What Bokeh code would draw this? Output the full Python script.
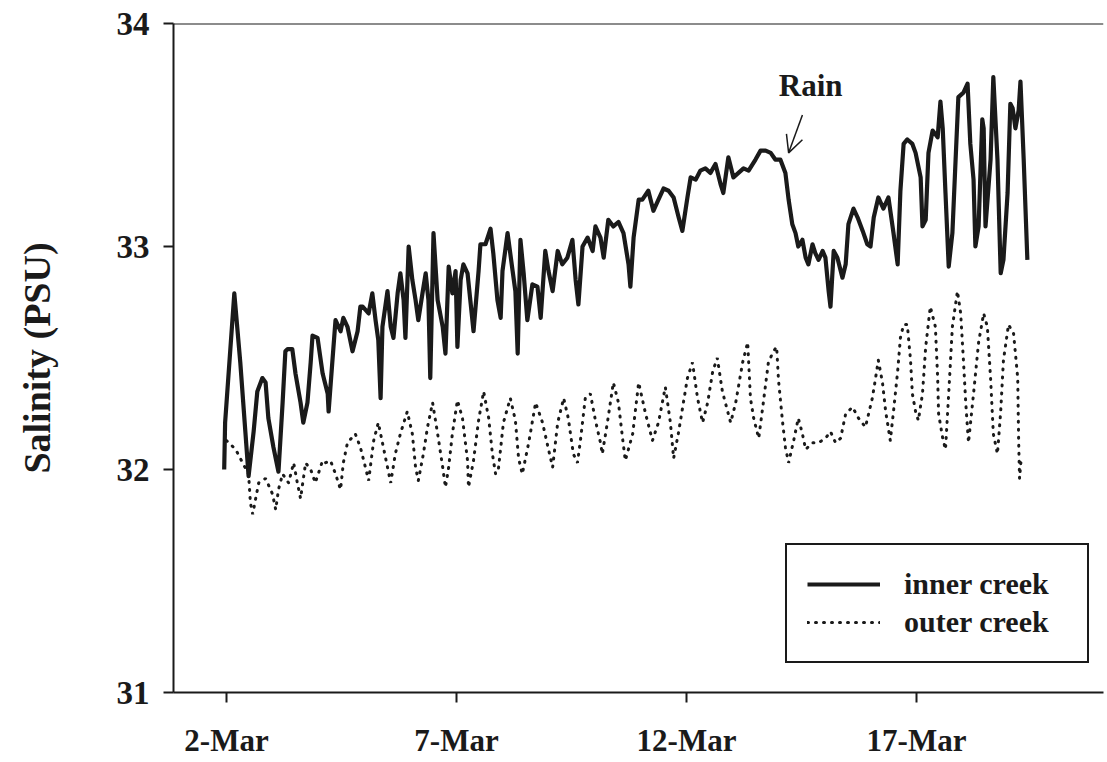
from bokeh.plotting import figure
from bokeh.models import FixedTicker, Span, Arrow, OpenHead, Label, Range1d
from bokeh.embed import file_html
from bokeh.resources import INLINE

# ---- data (day of March, salinity PSU) ----
inner_day = [
    1.95, 1.97, 2.17, 2.30, 2.41, 2.48, 2.59, 2.67, 2.78, 2.85,
    2.91, 3.02, 3.13, 3.22, 3.28, 3.33, 3.43, 3.50, 3.61, 3.67,
    3.76, 3.83, 3.87, 3.98, 4.09, 4.20, 4.22, 4.30, 4.37, 4.48,
    4.54, 4.63, 4.74, 4.85, 4.91, 4.96, 5.09, 5.17, 5.24, 5.30,
    5.35, 5.39, 5.50, 5.57, 5.63, 5.72, 5.78, 5.85, 5.89, 5.96,
    6.04, 6.11, 6.17, 6.26, 6.33, 6.39, 6.43, 6.50, 6.59, 6.70,
    6.76, 6.83, 6.91, 6.98, 7.02, 7.09, 7.15, 7.24, 7.30, 7.37,
    7.48, 7.52, 7.63, 7.74, 7.80, 7.89, 7.96, 8.00, 8.11, 8.22,
    8.28, 8.33, 8.39, 8.46, 8.54, 8.65, 8.76, 8.83, 8.93, 9.00,
    9.09, 9.20, 9.30, 9.41, 9.52, 9.59, 9.65, 9.74, 9.85, 9.96,
    10.02, 10.13, 10.20, 10.30, 10.41, 10.52, 10.63, 10.74, 10.78, 10.85,
    10.96, 11.04, 11.17, 11.28, 11.39, 11.50, 11.61, 11.72, 11.83, 11.91,
    12.02, 12.09, 12.20, 12.30, 12.41, 12.52, 12.63, 12.74, 12.80, 12.91,
    13.02, 13.13, 13.24, 13.35, 13.50, 13.61, 13.72, 13.83, 13.93, 14.04,
    14.15, 14.22, 14.30, 14.37, 14.43, 14.52, 14.59, 14.65, 14.74, 14.80,
    14.87, 14.96, 15.02, 15.09, 15.13, 15.20, 15.28, 15.39, 15.46, 15.52,
    15.63, 15.72, 15.83, 15.93, 16.00, 16.07, 16.17, 16.28, 16.39, 16.50,
    16.59, 16.65, 16.72, 16.80, 16.91, 16.98, 17.09, 17.13, 17.20, 17.26,
    17.35, 17.46, 17.52, 17.57, 17.63, 17.70, 17.78, 17.85, 17.91, 18.02,
    18.11, 18.17, 18.24, 18.28, 18.35, 18.43, 18.46, 18.50, 18.61, 18.67,
    18.76, 18.83, 18.89, 18.98, 19.04, 19.09, 19.15, 19.22, 19.26, 19.33, 19.41,
]
inner_sal = [
    32.00, 32.21, 32.79, 32.48, 32.17, 31.97, 32.17, 32.35, 32.41, 32.39,
    32.23, 32.10, 31.99, 32.30, 32.53, 32.54, 32.54, 32.43, 32.30, 32.21,
    32.30, 32.48, 32.60, 32.59, 32.43, 32.34, 32.26, 32.48, 32.67, 32.62,
    32.68, 32.64, 32.53, 32.62, 32.73, 32.73, 32.70, 32.79, 32.67, 32.58,
    32.32, 32.64, 32.80, 32.64, 32.59, 32.79, 32.88, 32.76, 32.59, 33.00,
    32.85, 32.76, 32.67, 32.79, 32.88, 32.76, 32.41, 33.06, 32.76, 32.64,
    32.52, 32.91, 32.79, 32.89, 32.55, 32.85, 32.92, 32.88, 32.76, 32.62,
    32.89, 33.01, 33.01, 33.08, 32.97, 32.76, 32.68, 32.89, 33.06, 32.89,
    32.80, 32.52, 33.03, 32.88, 32.67, 32.83, 32.82, 32.68, 32.98, 32.89,
    32.80, 32.98, 32.92, 32.95, 33.03, 32.85, 32.74, 33.00, 33.04, 32.98,
    33.09, 33.04, 32.95, 33.12, 33.09, 33.11, 33.06, 32.92, 32.82, 33.04,
    33.21, 33.21, 33.25, 33.16, 33.21, 33.26, 33.25, 33.22, 33.13, 33.07,
    33.22, 33.31, 33.30, 33.34, 33.35, 33.33, 33.37, 33.28, 33.24, 33.40,
    33.31, 33.33, 33.35, 33.34, 33.39, 33.43, 33.43, 33.42, 33.39, 33.39,
    33.33, 33.21, 33.10, 33.06, 33.00, 33.03, 32.95, 32.92, 33.01, 32.97,
    32.94, 32.98, 32.95, 32.80, 32.73, 32.98, 32.95, 32.86, 32.92, 33.10,
    33.17, 33.13, 33.07, 33.01, 33.00, 33.13, 33.22, 33.17, 33.22, 33.06,
    32.92, 33.25, 33.46, 33.48, 33.46, 33.42, 33.31, 33.09, 33.12, 33.42,
    33.52, 33.49, 33.65, 33.53, 33.24, 32.91, 33.06, 33.39, 33.67, 33.69,
    33.73, 33.46, 33.30, 33.00, 33.09, 33.57, 33.53, 33.09, 33.39, 33.76,
    33.39, 32.88, 32.94, 33.24, 33.64, 33.62, 33.53, 33.61, 33.74, 33.39, 32.94,
]

outer_day = [
    2.00, 2.20, 2.35, 2.48, 2.52, 2.57, 2.70, 2.85, 3.00, 3.07,
    3.13, 3.22, 3.35, 3.46, 3.54, 3.61, 3.72, 3.83, 3.93, 4.09,
    4.15, 4.26, 4.37, 4.48, 4.54, 4.63, 4.80, 4.91, 5.02, 5.09,
    5.20, 5.30, 5.41, 5.50, 5.57, 5.67, 5.78, 5.93, 6.04, 6.11,
    6.17, 6.28, 6.37, 6.48, 6.59, 6.70, 6.76, 6.83, 6.91, 7.02,
    7.13, 7.24, 7.26, 7.37, 7.48, 7.59, 7.70, 7.78, 7.85, 7.91,
    8.02, 8.17, 8.28, 8.35, 8.43, 8.57, 8.72, 8.87, 9.00, 9.09,
    9.20, 9.33, 9.43, 9.54, 9.63, 9.70, 9.80, 9.91, 10.02, 10.13,
    10.17, 10.28, 10.41, 10.52, 10.61, 10.67, 10.83, 10.96, 11.11, 11.26,
    11.39, 11.54, 11.65, 11.72, 11.83, 12.02, 12.13, 12.24, 12.35, 12.46,
    12.57, 12.67, 12.78, 12.96, 13.07, 13.22, 13.33, 13.39, 13.46, 13.57,
    13.67, 13.78, 13.89, 13.96, 14.00, 14.09, 14.15, 14.22, 14.33, 14.43,
    14.52, 14.59, 14.74, 14.87, 15.02, 15.13, 15.24, 15.35, 15.46, 15.61,
    15.74, 15.89, 16.04, 16.11, 16.17, 16.26, 16.33, 16.43, 16.50, 16.59,
    16.65, 16.72, 16.80, 16.87, 16.91, 16.98, 17.04, 17.13, 17.20, 17.30,
    17.41, 17.46, 17.48, 17.57, 17.63, 17.70, 17.78, 17.89, 17.96, 18.02,
    18.07, 18.13, 18.24, 18.35, 18.46, 18.54, 18.61, 18.67, 18.76, 18.83,
    18.89, 19.00, 19.11, 19.20, 19.22, 19.24, 19.28,
]
outer_sal = [
    32.13, 32.09, 32.03, 31.98, 31.85, 31.80, 31.94, 31.96, 31.89, 31.82,
    31.91, 31.98, 31.94, 32.03, 31.94, 31.87, 32.03, 32.00, 31.94, 32.04,
    32.03, 32.04, 31.98, 31.91, 32.03, 32.12, 32.16, 32.10, 32.01, 31.95,
    32.13, 32.21, 32.10, 32.01, 31.94, 32.07, 32.16, 32.26, 32.16, 32.01,
    31.95, 32.07, 32.19, 32.30, 32.16, 32.01, 31.92, 32.01, 32.16, 32.31,
    32.23, 32.04, 31.92, 32.04, 32.22, 32.35, 32.23, 32.07, 31.98, 32.00,
    32.21, 32.32, 32.22, 32.05, 31.98, 32.12, 32.30, 32.21, 32.09, 32.01,
    32.21, 32.32, 32.23, 32.07, 32.03, 32.14, 32.32, 32.34, 32.22, 32.12,
    32.07, 32.21, 32.39, 32.30, 32.14, 32.04, 32.16, 32.39, 32.25, 32.13,
    32.21, 32.37, 32.21, 32.05, 32.17, 32.41, 32.48, 32.32, 32.21, 32.30,
    32.44, 32.50, 32.35, 32.21, 32.30, 32.48, 32.57, 32.32, 32.23, 32.14,
    32.30, 32.48, 32.53, 32.55, 32.40, 32.21, 32.10, 32.03, 32.13, 32.23,
    32.16, 32.09, 32.12, 32.12, 32.14, 32.17, 32.12, 32.14, 32.25, 32.28,
    32.23, 32.19, 32.32, 32.41, 32.49, 32.39, 32.26, 32.13, 32.26, 32.44,
    32.59, 32.65, 32.65, 32.49, 32.34, 32.26, 32.22, 32.34, 32.55, 32.73,
    32.64, 32.41, 32.25, 32.14, 32.09, 32.34, 32.64, 32.80, 32.70, 32.49,
    32.30, 32.12, 32.34, 32.57, 32.70, 32.64, 32.41, 32.16, 32.07, 32.26,
    32.49, 32.65, 32.61, 32.41, 32.13, 31.96, 32.06,
]

x_ticks = [2, 7, 12, 17]
x_tick_labels = ["2-Mar", "7-Mar", "12-Mar", "17-Mar"]
y_ticks = [31, 32, 33, 34]

rain_text = "Rain"
rain_label_pos = (14.70, 33.72)
rain_arrow_from = (14.52, 33.59)
rain_arrow_to = (14.22, 33.42)

FONT = "Liberation Serif"
INK = "#1a1a1a"

p = figure(width=1107, height=762, output_backend="svg", toolbar_location=None,
           x_range=Range1d(0.848, 21.065), y_range=Range1d(31, 34),
           min_border_left=173, min_border_right=4, min_border_top=23, min_border_bottom=70)
p.background_fill_color = "white"
p.border_fill_color = "white"
p.outline_line_color = None
p.xgrid.visible = False
p.ygrid.visible = False

p.line(inner_day, inner_sal, line_color=INK, line_width=4.2, line_join="round",
       legend_label="inner creek")
p.line(outer_day, outer_sal, line_color=INK, line_width=3, line_dash="1 7",
       line_cap="round", legend_label="outer creek")

# top frame line
p.add_layout(Span(location=34, dimension="width", line_color=INK, line_width=2))

for ax in (p.xaxis[0], p.yaxis[0]):
    ax.axis_line_color = INK
    ax.axis_line_width = 2
    ax.major_tick_line_color = INK
    ax.major_tick_line_width = 2
    ax.major_tick_in = 0
    ax.major_tick_out = 10
    ax.minor_tick_line_color = None
    ax.major_label_text_font = FONT
    ax.major_label_text_font_style = "bold"
    ax.major_label_text_color = INK

p.xaxis.ticker = FixedTicker(ticks=x_ticks)
p.xaxis.major_label_overrides = {t: l for t, l in zip(x_ticks, x_tick_labels)}
p.xaxis.major_label_text_font_size = "31px"
p.xaxis.major_label_standoff = 20

p.yaxis.ticker = FixedTicker(ticks=y_ticks)
p.yaxis.major_label_text_font_size = "33px"
p.yaxis.major_label_standoff = 14
p.yaxis.axis_label = "Salinity (PSU)"
p.yaxis.axis_label_text_font = FONT
p.yaxis.axis_label_text_font_style = "bold"
p.yaxis.axis_label_text_font_size = "38px"
p.yaxis.axis_label_text_color = INK
p.yaxis.axis_label_standoff = 56

p.add_layout(Label(x=rain_label_pos[0], y=rain_label_pos[1], text=rain_text,
                   text_font=FONT, text_font_style="bold", text_font_size="31px",
                   text_align="center", text_baseline="middle", text_color=INK))
p.add_layout(Arrow(end=OpenHead(size=17, line_width=1.5, line_color=INK),
                   x_start=rain_arrow_from[0], y_start=rain_arrow_from[1],
                   x_end=rain_arrow_to[0], y_end=rain_arrow_to[1],
                   line_width=1.5, line_color=INK))

lg = p.legend[0]
lg.location = (612, 29)
lg.border_line_color = INK
lg.border_line_alpha = 1
lg.border_line_width = 2
lg.background_fill_color = "white"
lg.background_fill_alpha = 1
lg.padding = 20
lg.spacing = 0
lg.margin = 0
lg.glyph_width = 73
lg.glyph_height = 38
lg.label_height = 38
lg.label_standoff = 24
lg.label_width = 163
lg.label_text_font = FONT
lg.label_text_font_style = "bold"
lg.label_text_font_size = "30px"
lg.label_text_color = INK

open("out.html", "w").write(file_html(p, INLINE))
